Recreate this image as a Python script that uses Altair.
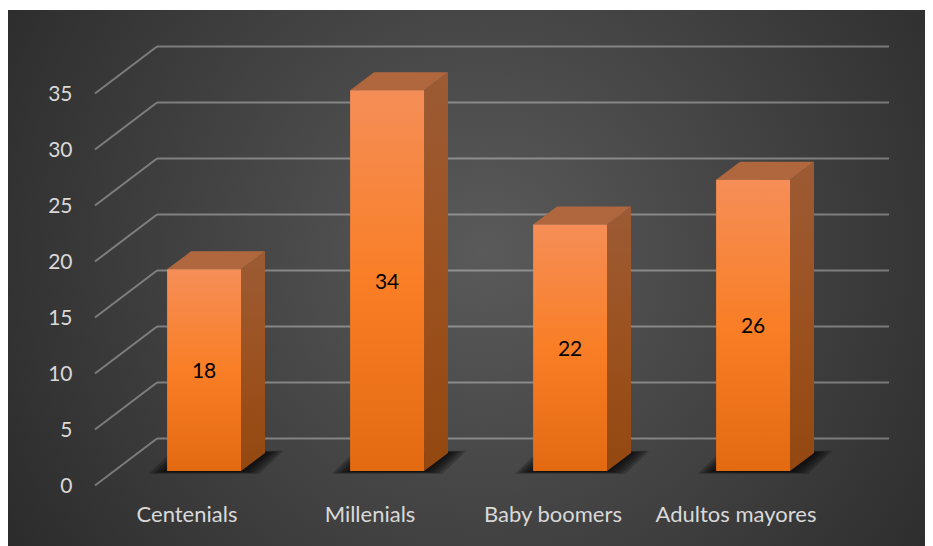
import altair as alt
import pandas as pd

categories = ["Centenials", "Millenials", "Baby boomers", "Adultos mayores"]
values = [18, 34, 22, 26]
grid_values = [0, 5, 10, 15, 20, 25, 30, 35]

FONT = "Lato"
W, H = 917, 536
X_DOM = [-0.4754, 4.5355]
Y_DOM = [-5.402, 42.455]

# perspective depths, in data units of the two scales
WALL_X, WALL_Y = 0.339, 4.2
BAR_OFF_X, BAR_BASE = 0.096, 1.3
BAR_W, BAR_DX, BAR_DY = 0.404, 0.131, 1.607

bars, sides, tops, shadows = [], [], [], []
for i, (c, v) in enumerate(zip(categories, values)):
    cx = i + 0.5 + BAR_OFF_X
    x0, x1 = cx - BAR_W / 2, cx + BAR_W / 2
    t, b = BAR_BASE + v, BAR_BASE
    bars.append(dict(cat=c, v=v, cx=cx, x0=x0, x1=x1, top=t, base=b, mid=(t + b) / 2))
    sides += [dict(cat=c, x=x1, y=t, y2=b), dict(cat=c, x=x1 + BAR_DX, y=t + BAR_DY, y2=b + BAR_DY)]
    tops += [
        dict(cat=c, x=x0, y=t, y2=t),
        dict(cat=c, x=x0 + BAR_DX, y=t + BAR_DY, y2=t),
        dict(cat=c, x=x1, y=t + BAR_DY, y2=t),
        dict(cat=c, x=x1 + BAR_DX, y=t + BAR_DY, y2=t + BAR_DY),
    ]
    for lvl, m in enumerate([0.1, 0.08, 0.06, 0.04, 0.02]):
        sx0, sx1 = x0 - m, x1 + m
        ylow = b - 0.04 - m * 2
        yhigh = b + BAR_DY + m * 2
        d = BAR_DX
        shadows += [
            dict(cat=c, lvl=lvl, x=sx0, y=ylow, y2=ylow),
            dict(cat=c, lvl=lvl, x=sx0 + d, y=yhigh, y2=ylow),
            dict(cat=c, lvl=lvl, x=sx1, y=yhigh, y2=ylow),
            dict(cat=c, lvl=lvl, x=sx1 + d, y=yhigh, y2=yhigh),
        ]

df_bars = pd.DataFrame(bars)
df_sides = pd.DataFrame(sides)
df_tops = pd.DataFrame(tops)
df_shadows = pd.DataFrame(shadows)
df_grid = pd.DataFrame(
    [dict(v=g, y_back=g + WALL_Y, x0=0, x_b=WALL_X, x_e=4 + WALL_X) for g in grid_values]
)

sx = alt.Scale(domain=X_DOM, nice=False, zero=False)
sy = alt.Scale(domain=Y_DOM, nice=False, zero=False)


def X(f, axis=alt.Undefined):
    return alt.X(f, type="quantitative", scale=sx, axis=axis, title=None)


def Y(f, axis=alt.Undefined):
    return alt.Y(f, type="quantitative", scale=sy, axis=axis, title=None)


def grad(*stops):
    return alt.LinearGradient(
        gradient="linear", x1=0, x2=0, y1=0, y2=1,
        stops=[alt.GradientStop(offset=o, color=c) for o, c in stops],
    )


bg = alt.Chart(pd.DataFrame({"a": [0]})).mark_rect(
    color=alt.RadialGradient(
        gradient="radial", x1=0.52, y1=0.47, x2=0.52, y2=0.47, r1=0, r2=0.68,
        stops=[
            alt.GradientStop(offset=0, color="#5a5a5a"),
            alt.GradientStop(offset=1, color="#262626"),
        ],
    )
).encode(x=alt.value(0), x2=alt.value(W), y=alt.value(0), y2=alt.value(H))

x_axis = alt.Axis(
    values=[0.5, 1.5, 2.5, 3.5],
    labelExpr="%s[datum.value - 0.5]" % str(categories),
    domain=False, ticks=False, grid=False, labelPadding=0, offset=-42,
    labelFont=FONT, labelFontSize=22, labelColor="#d9d9d9", zindex=1, labelFlush=False,
)
y_axis = alt.Axis(
    values=grid_values, domain=False, ticks=False, grid=False, labelPadding=0, offset=-64,
    labelFont=FONT, labelFontSize=21, labelColor="#d9d9d9", zindex=1, labelAlign="right",
    labelBaseline="middle", labelOffset=1,
)

grid_style = dict(color="white", opacity=0.34, strokeWidth=2)
grid_back = alt.Chart(df_grid).mark_rule(**grid_style).encode(
    x=X("x_b", axis=x_axis), x2="x_e", y=Y("y_back", axis=y_axis)
)
grid_diag = alt.Chart(df_grid).mark_rule(**grid_style).encode(
    x=X("x0"), x2="x_b", y=Y("v"), y2="y_back"
)

shadow = alt.Chart(df_shadows).mark_area(color="#000000", opacity=0.22, interpolate="linear").encode(
    x=X("x"), y=Y("y"), y2="y2", detail=["cat:N", "lvl:N"]
)
side = alt.Chart(df_sides).mark_area(
    color=grad((0, "#9c5b35"), (0.5, "#9c5220"), (1, "#944810"))
).encode(x=X("x"), y=Y("y"), y2="y2", detail="cat:N")
top = alt.Chart(df_tops).mark_area(color="#b1673e").encode(
    x=X("x"), y=Y("y"), y2="y2", detail="cat:N"
)
front = alt.Chart(df_bars).mark_rect(
    color=grad((0, "#f58e57"), (0.5, "#f97e26"), (1, "#e46a12"))
).encode(x=X("x0"), x2="x1", y=Y("top"), y2="base")
label = alt.Chart(df_bars).mark_text(
    font=FONT, fontSize=21, color="#000000", baseline="middle", dy=2
).encode(x=X("cx"), y=Y("mid"), text="v:Q")

chart = alt.layer(bg, grid_back, grid_diag, shadow, side, top, front, label).properties(
    width=W, height=H,
    padding={"left": 0, "top": 2, "right": 0, "bottom": 0},
    autosize=alt.AutoSizeParams(type="none"),
    background="white",
).configure_view(stroke=None)

chart.save("out.html", embed_options={"renderer": "svg", "actions": False})
